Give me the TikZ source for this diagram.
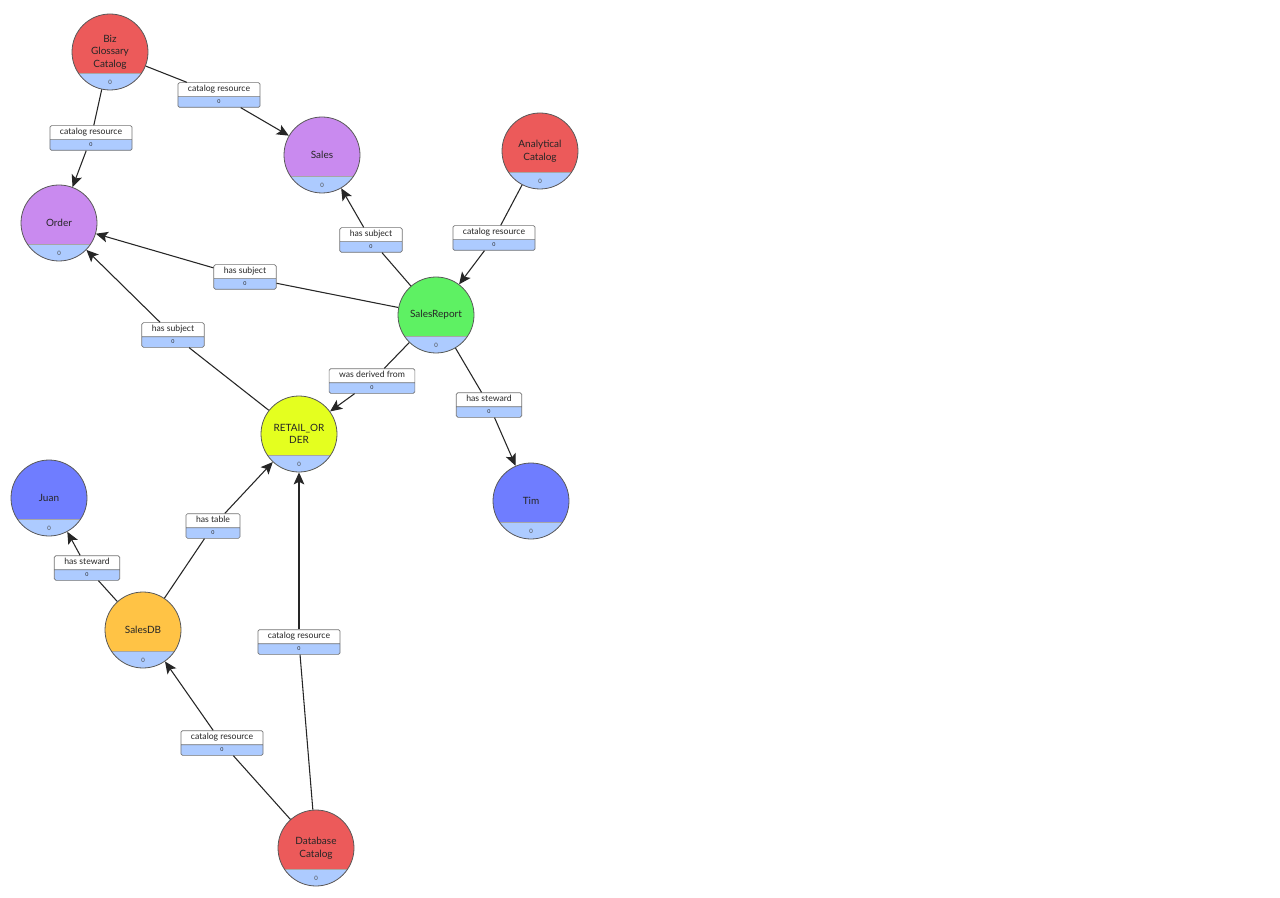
\documentclass[tikz,border=0pt]{standalone}
\usepackage{fontspec}
\setmainfont{Lato}
\usetikzlibrary{arrows.meta, shapes.multipart}
\definecolor{catred}{HTML}{EC5A5A}
\definecolor{subjpur}{HTML}{C98AEF}
\definecolor{repgrn}{HTML}{5EF163}
\definecolor{tabyel}{HTML}{E4FF1F}
\definecolor{persblu}{HTML}{6F7DFF}
\definecolor{dborg}{HTML}{FFC345}
\definecolor{band}{HTML}{ADCBFF}
\newcommand{\elt}[1]{\rule[-2pt]{0pt}{7pt}#1\nodepart{two}\fontsize{4}{4}\selectfont\rule[-1pt]{0pt}{4.5pt}0}

\begin{document}
\begin{tikzpicture}[
  x=0.75pt, y=-0.75pt,
  zero/.style={font=\fontsize{4.5}{5}\selectfont, text=black!70, yshift=-22.5pt},
  ent/.style={circle, draw=black!65, line width=0.6pt, minimum size=57pt, inner sep=0pt,
              align=center, font=\fontsize{7.5}{9.4}\selectfont, text=black!85,
              path picture={\fill[band] ([xshift=-30pt,yshift=-15.75pt]path picture bounding box.center)
                              rectangle ([xshift=30pt,yshift=-30pt]path picture bounding box.center);
                            \draw[black!35, line width=0.4pt] ([xshift=-30pt,yshift=-15.75pt]path picture bounding box.center)
                              -- ([xshift=30pt,yshift=-15.75pt]path picture bounding box.center);},
              label={[zero]center:0}},
  elab/.style={rectangle split, rectangle split parts=2, rectangle split part fill={white,band},
               draw=black!55, line width=0.5pt, rounded corners=1.2pt, inner xsep=7.5pt, inner ysep=1.5pt,
               font=\fontsize{6.5}{7.5}\selectfont, text=black!85},
  ln/.style={black!85, line width=0.8pt},
  ark/.style={ln, -{Stealth[length=9pt, width=8pt, inset=2pt]}}
]
\fill[white] (0,0) rectangle (1280,898);
\useasboundingbox (0,0) rectangle (1280,898);

\node[ent, fill=catred]  (biz)    at (110,52)  {Biz\\Glossary\\Catalog};
\node[ent, fill=subjpur] (sales)  at (322,155) {Sales};
\node[ent, fill=catred]  (anacat) at (540,151) {Analytical\\Catalog};
\node[ent, fill=subjpur] (order)  at (59,223)  {Order};
\node[ent, fill=repgrn]  (srep)   at (436,315) {SalesReport};
\node[ent, fill=tabyel]  (retail) at (299,434) {RETAIL\_OR\\DER};
\node[ent, fill=persblu] (juan)   at (49,498)  {Juan};
\node[ent, fill=persblu] (tim)    at (531,501) {Tim};
\node[ent, fill=dborg]   (sdb)    at (143,630) {SalesDB};
\node[ent, fill=catred]  (dbcat)  at (316,848) {Database\\Catalog};

\node[elab] (cr1) at (91,138)  {\elt{catalog resource}};
\node[elab] (cr2) at (219,95)  {\elt{catalog resource}};
\node[elab] (cr3) at (494,238) {\elt{catalog resource}};
\node[elab] (hs1) at (371,240) {\elt{has subject}};
\node[elab] (hs2) at (245,277) {\elt{has subject}};
\node[elab] (hs3) at (173,335) {\elt{has subject}};
\node[elab] (wdf) at (372,381) {\elt{was derived from}};
\node[elab] (st1) at (489,405) {\elt{has steward}};
\node[elab] (tbl) at (213,526) {\elt{has table}};
\node[elab] (st2) at (87,568)  {\elt{has steward}};
\node[elab] (cr4) at (299,642) {\elt{catalog resource}};
\node[elab] (cr5) at (222,743) {\elt{catalog resource}};

\draw[ln] (biz) -- (cr1);    \draw[ark] (cr1) -- (order);
\draw[ln] (biz) -- (cr2);    \draw[ark] (cr2) -- (sales);
\draw[ln] (anacat) -- (cr3); \draw[ark] (cr3) -- (srep);
\draw[ln] (srep) -- (hs1);   \draw[ark] (hs1) -- (sales);
\draw[ln] (srep) -- (hs2);   \draw[ark] (hs2) -- (order);
\draw[ln] (retail) -- (hs3); \draw[ark] (hs3) -- (order);
\draw[ln] (srep) -- (wdf);   \draw[ark] (wdf) -- (retail);
\draw[ln] (srep) -- (st1);   \draw[ark] (st1) -- (tim);
\draw[ln] (sdb) -- (tbl);    \draw[ark] (tbl) -- (retail);
\draw[ln] (sdb) -- (st2);    \draw[ark] (st2) -- (juan);
\draw[ln] (dbcat) -- (cr4);  \draw[ark] (cr4) -- (retail);
\draw[ln] (dbcat) -- (cr5);  \draw[ark] (cr5) -- (sdb);
\end{tikzpicture}
\end{document}
